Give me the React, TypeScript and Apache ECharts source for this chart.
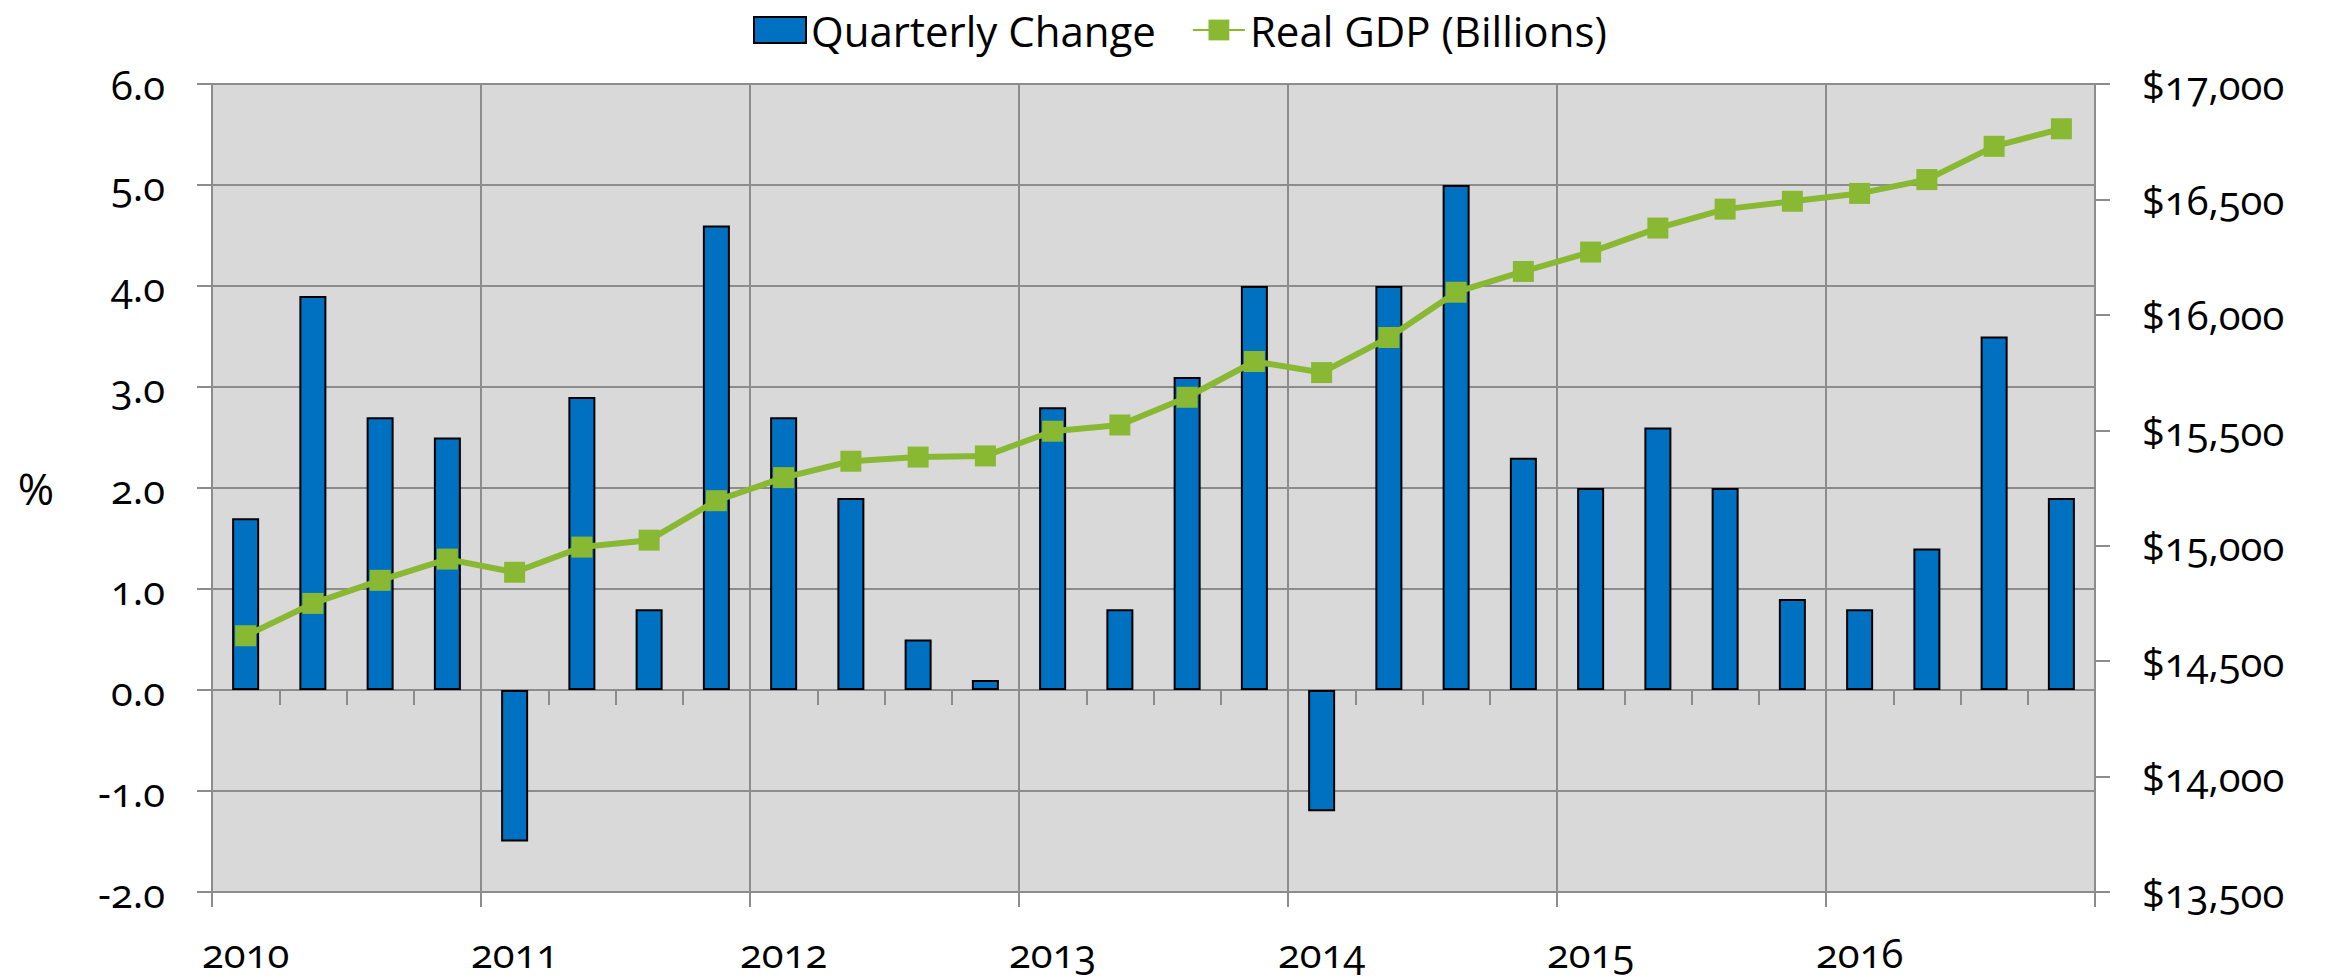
import React, { useEffect, useRef } from "react";
import * as echarts from "echarts";

const quarters = [
  "2010 Q1", "2010 Q2", "2010 Q3", "2010 Q4",
  "2011 Q1", "2011 Q2", "2011 Q3", "2011 Q4",
  "2012 Q1", "2012 Q2", "2012 Q3", "2012 Q4",
  "2013 Q1", "2013 Q2", "2013 Q3", "2013 Q4",
  "2014 Q1", "2014 Q2", "2014 Q3", "2014 Q4",
  "2015 Q1", "2015 Q2", "2015 Q3", "2015 Q4",
  "2016 Q1", "2016 Q2", "2016 Q3", "2016 Q4",
];
const yearLabels = ["2010", "2011", "2012", "2013", "2014", "2015", "2016"];

const quarterlyChange = [
  1.7, 3.9, 2.7, 2.5,
  -1.5, 2.9, 0.8, 4.6,
  2.7, 1.9, 0.5, 0.1,
  2.8, 0.8, 3.1, 4.0,
  -1.2, 4.0, 5.0, 2.3,
  2.0, 2.6, 2.0, 0.9,
  0.8, 1.4, 3.5, 1.9,
];

const realGdp = [
  14610, 14750, 14850, 14942,
  14885, 14994, 15024, 15195,
  15295, 15366, 15384, 15389,
  15496, 15523, 15643, 15798,
  15750, 15902, 16098, 16188,
  16272, 16376, 16458, 16492,
  16526, 16586, 16730, 16806,
];

const FONT = "'Open Sans', 'Noto Sans', sans-serif";
const GRID_GRAY = "#8c8c8c";

export default function App() {
  const ref = useRef<HTMLDivElement>(null);

  useEffect(() => {
    const style = document.createElement("style");
    style.textContent =
      "#root svg text { font-variant-numeric: oldstyle-nums !important; font-feature-settings: 'onum' 1 !important; }";
    document.head.appendChild(style);

    const chart = echarts.init(ref.current!, undefined, { renderer: "svg" });
    chart.setOption({
      animation: false,
      backgroundColor: "#ffffff",
      textStyle: { fontFamily: FONT },
      legend: {
        left: 748,
        top: 4,
        itemWidth: 52,
        itemHeight: 26,
        itemGap: 36,
        textStyle: { fontSize: 42, color: "#000", fontFamily: FONT },
        data: [
          { name: "Quarterly Change", icon: "rect" },
          { name: "Real GDP (Billions)" },
        ],
      },
      grid: {
        left: 212,
        right: 235,
        top: 84,
        bottom: 87,
        show: true,
        backgroundColor: "#d9d9d9",
        borderWidth: 0,
      },
      xAxis: [
        {
          type: "category",
          data: quarters,
          boundaryGap: true,
          axisLine: { show: true, onZero: true, lineStyle: { color: GRID_GRAY, width: 2 } },
          axisTick: { show: true, interval: 0, length: 15, lineStyle: { color: GRID_GRAY, width: 2 } },
          axisLabel: { show: false },
          splitLine: { show: true, interval: 3, lineStyle: { color: GRID_GRAY, width: 2 } },
        },
        {
          type: "category",
          data: quarters,
          position: "bottom",
          boundaryGap: true,
          axisLine: { show: true, onZero: false, lineStyle: { color: GRID_GRAY, width: 2 } },
          axisTick: { show: true, interval: 3, length: 15, lineStyle: { color: GRID_GRAY, width: 2 } },
          axisLabel: {
            show: true,
            interval: 3,
            margin: 40,
            fontSize: 40,
            color: "#000",
            fontFamily: FONT,
            formatter: (_v: string, i: number) => (i % 4 === 0 ? yearLabels[i / 4] : ""),
          },
          splitLine: { show: false },
        },
      ],
      yAxis: [
        {
          type: "value",
          min: -2,
          max: 6,
          interval: 1,
          name: "%",
          nameLocation: "middle",
          nameRotate: 0,
          nameGap: 158,
          nameTextStyle: { fontSize: 44, color: "#000", fontFamily: FONT, padding: [0, 0, 24, 0] },
          axisLine: { show: true, lineStyle: { color: GRID_GRAY, width: 2 } },
          axisTick: { show: true, length: 15, lineStyle: { color: GRID_GRAY, width: 2 } },
          axisLabel: {
            margin: 47,
            fontSize: 40,
            color: "#000",
            fontFamily: FONT,
            formatter: (v: number) => v.toFixed(1),
          },
          splitLine: { show: true, lineStyle: { color: GRID_GRAY, width: 2 } },
        },
        {
          type: "value",
          min: 13500,
          max: 17000,
          interval: 500,
          position: "right",
          axisLine: { show: true, lineStyle: { color: GRID_GRAY, width: 2 } },
          axisTick: { show: true, length: 15, lineStyle: { color: GRID_GRAY, width: 2 } },
          axisLabel: {
            margin: 47,
            fontSize: 40,
            color: "#000",
            fontFamily: FONT,
            formatter: (v: number) => "$" + v.toLocaleString("en-US"),
          },
          splitLine: { show: false },
        },
      ],
      series: [
        {
          name: "Quarterly Change",
          type: "bar",
          xAxisIndex: 0,
          yAxisIndex: 0,
          data: quarterlyChange,
          barWidth: 27,
          itemStyle: { color: "#0070c0", borderColor: "#000", borderWidth: 2 },
        },
        {
          name: "Real GDP (Billions)",
          type: "line",
          xAxisIndex: 0,
          yAxisIndex: 1,
          data: realGdp,
          symbol: "rect",
          symbolSize: 21,
          lineStyle: { color: "#89b833", width: 6 },
          itemStyle: { color: "#89b833" },
          z: 5,
        },
      ],
    });

    return () => {
      chart.dispose();
      style.remove();
    };
  }, []);

  return (
    <div
      ref={ref}
      style={{ position: "fixed", left: 0, top: 0, width: "2330px", height: "979px" }}
    />
  );
}
